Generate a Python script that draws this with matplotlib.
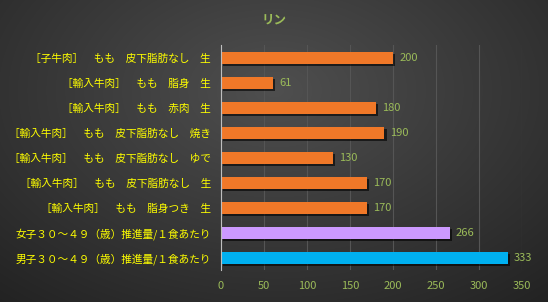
import numpy as np
import matplotlib.pyplot as plt
import matplotlib.patheffects as pe

plt.rcParams['font.family'] = ['Noto Sans CJK JP', 'DejaVu Sans']

# データ（下から上の順）
labels = [
    '男子３０～４９（歳）推進量/１食あたり',
    '女子３０～４９（歳）推進量/１食あたり',
    '［輸入牛肉］　もも　脂身つき　生',
    '［輸入牛肉］　もも　皮下脂肪なし　生',
    '［輸入牛肉］　もも　皮下脂肪なし　ゆで',
    '［輸入牛肉］　もも　皮下脂肪なし　焼き',
    '［輸入牛肉］　もも　赤肉　生',
    '［輸入牛肉］　もも　脂身　生',
    '［子牛肉］　もも　皮下脂肪なし　生',
]
values = [333, 266, 170, 170, 130, 190, 180, 61, 200]
colors = ['#00b0f0', '#cc99ff'] + ['#f07828'] * 7
xticks = [0, 50, 100, 150, 200, 250, 300, 350]

fig = plt.figure(figsize=(5.48, 3.02), dpi=100)

# 背景のグラデーション
bg = fig.add_axes([0, 0, 1, 1], zorder=-10)
yy, xx = np.mgrid[0:1:302j, 0:1:548j]
r = np.sqrt(((xx - 0.5) / 0.75) ** 2 + ((yy - 0.3) / 0.9) ** 2)
g = np.clip(0.31 - 0.17 * r, 0.10, 0.31)
bg.imshow(np.dstack([g, g, g]), aspect='auto', extent=[0, 1, 1, 0])
bg.axis('off')

ax = fig.add_axes([0.403, 0.105, 0.550, 0.745])
ax.patch.set_alpha(0)
y = np.arange(len(values))
bars = ax.barh(y, values, height=0.5, color=colors, zorder=3)
for b in bars:
    b.set_path_effects([pe.SimplePatchShadow(offset=(1.5, -1.5), shadow_rgbFace='black', alpha=0.6), pe.Normal()])

for yi, v in zip(y, values):
    ax.text(v + 7, yi, str(v), va='center', ha='left', color='#9bbb59', fontsize=8)

ax.set_xlim(0, 350)
ax.set_ylim(-0.5, len(values) - 0.5)
ax.set_xticks(xticks)
ax.set_yticks(y)
ax.set_yticklabels(labels)
ax.tick_params(axis='x', colors='#9bbb59', labelsize=8, length=0, pad=8)
ax.tick_params(axis='y', colors='#ffff00', labelsize=7.7, length=0, pad=7)
ax.grid(axis='x', color='#555555', linewidth=0.8, zorder=0)
for s in ['top', 'right', 'bottom']:
    ax.spines[s].set_visible(False)
ax.spines['left'].set_color('#bfbfbf')
ax.spines['left'].set_zorder(4)

fig.text(0.5, 0.935, 'リン', ha='center', va='center', color='#9bbb59', fontsize=9, fontweight='bold')

fig.savefig('out.png', dpi=100)
